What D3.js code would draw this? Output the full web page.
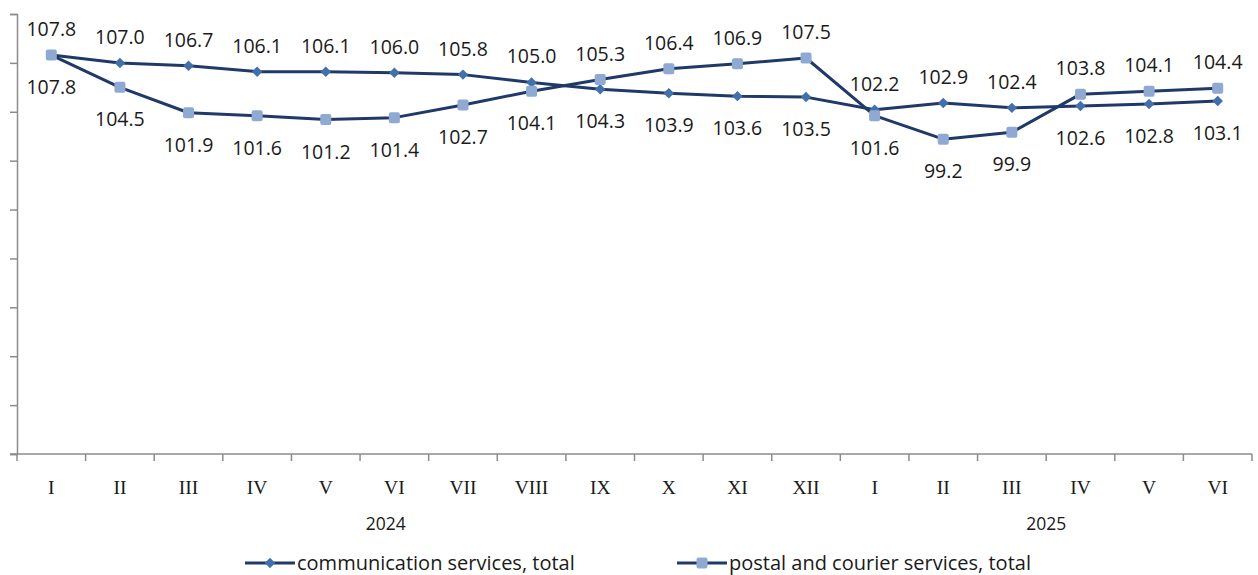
<!DOCTYPE html>
<html lang="en">
<head>
  <meta charset="UTF-8">
  <title>Communication and postal services</title>
  <script src="https://d3js.org/d3.v7.min.js"></script>
</head>
<body style="margin:0;background:#fff">

<div id="chart"></div>

<script>

// data
var months = ["I","II","III","IV","V","VI","VII","VIII","IX","X","XI","XII","I","II","III","IV","V","VI"];
var years = ["2024","2025"];
var yearFirst = [0, 12];
var yearLast = [11, 17];
var commValues = [107.8,107.0,106.7,106.1,106.1,106.0,105.8,105.0,104.3,103.9,103.6,103.5,102.2,102.9,102.4,102.6,102.8,103.1];
var postValues = [107.8,104.5,101.9,101.6,101.2,101.4,102.7,104.1,105.3,106.4,106.9,107.5,101.6,99.2,99.9,103.8,104.1,104.4];
var seriesNames = ["communication services, total", "postal and courier services, total"];

var width = 1258, height = 575;
var margin = {top: 14, right: 6, bottom: 121, left: 17};
var lineColor = "#1f3a68";
var commColor = "#4170ab";
var postColor = "#8fa9d3";
var axisColor = "#8c8c8c";

var svg = d3.select("#chart").append("svg")
  .attr("width", width)
  .attr("height", height);

var x = d3.scaleBand()
  .domain(d3.range(months.length))
  .range([margin.left, width - margin.right])
  .padding(0);

var y = d3.scaleLinear()
  .domain([67, 112])
  .range([height - margin.bottom, margin.top]);

var bottomY = height - margin.bottom;
var cx = i => x(i) + x.bandwidth() / 2;

// y axis: ticks without labels
var yAxis = svg.append("g")
  .attr("transform", "translate(" + margin.left + ",0)")
  .call(d3.axisLeft(y).tickValues(d3.range(67, 113, 5)).tickSize(7).tickFormat(""));
yAxis.select(".domain").attr("stroke", axisColor).attr("stroke-width", 1.5);
yAxis.selectAll(".tick line").attr("stroke", axisColor).attr("stroke-width", 1.5);

// x axis line with boundary ticks
svg.append("line")
  .attr("x1", margin.left - 7).attr("x2", width - margin.right)
  .attr("y1", bottomY).attr("y2", bottomY)
  .attr("stroke", axisColor).attr("stroke-width", 1.5);

svg.selectAll(".xtick")
  .data(d3.range(months.length + 1))
  .join("line")
  .attr("class", "xtick")
  .attr("x1", i => i < months.length ? x(i) : x(months.length - 1) + x.bandwidth())
  .attr("x2", i => i < months.length ? x(i) : x(months.length - 1) + x.bandwidth())
  .attr("y1", bottomY).attr("y2", bottomY + 7)
  .attr("stroke", axisColor).attr("stroke-width", 1.5);

svg.selectAll(".month")
  .data(months)
  .join("text")
  .attr("class", "month")
  .attr("x", (d, i) => cx(i))
  .attr("y", bottomY + 40)
  .attr("text-anchor", "middle")
  .attr("font-family", "'Liberation Serif', serif")
  .attr("font-size", 19.5)
  .attr("fill", "#1a1a1a")
  .text(d => d);

svg.selectAll(".year")
  .data(years)
  .join("text")
  .attr("class", "year")
  .attr("x", (d, i) => {
    var mid = (x(yearFirst[i]) + x(yearLast[i]) + x.bandwidth()) / 2;
    return i === 0 ? mid - 43 : mid;
  })
  .attr("y", bottomY + 76)
  .attr("text-anchor", "middle")
  .attr("font-family", "'Open Sans', sans-serif")
  .attr("font-size", 17.5)
  .attr("fill", "#1a1a1a")
  .text(d => d);

var line = d3.line()
  .x((d, i) => cx(i))
  .y(d => y(d));

// postal drawn first, communication on top
svg.append("path")
  .datum(postValues)
  .attr("fill", "none")
  .attr("stroke", lineColor)
  .attr("stroke-width", 3)
  .attr("stroke-linejoin", "round")
  .attr("d", line);

svg.append("path")
  .datum(commValues)
  .attr("fill", "none")
  .attr("stroke", lineColor)
  .attr("stroke-width", 3)
  .attr("stroke-linejoin", "round")
  .attr("d", line);

var diamond = d3.symbol().type(d3.symbolDiamond2).size(70);

svg.selectAll(".comm-pt")
  .data(commValues)
  .join("path")
  .attr("class", "comm-pt")
  .attr("transform", (d, i) => "translate(" + cx(i) + "," + y(d) + ")")
  .attr("d", diamond)
  .attr("fill", commColor);

svg.selectAll(".post-pt")
  .data(postValues)
  .join("rect")
  .attr("class", "post-pt")
  .attr("x", (d, i) => cx(i) - 5.5)
  .attr("y", d => y(d) - 5.5)
  .attr("width", 11).attr("height", 11)
  .attr("rx", 2)
  .attr("fill", postColor);

// labels: the higher series gets its label above, the other below
function labelY(v, other, isComm) {
  var above = isComm ? v >= other : v > other;
  return above ? y(v) - 19 : y(v) + 39;
}

svg.selectAll(".comm-lbl")
  .data(commValues)
  .join("text")
  .attr("class", "comm-lbl")
  .attr("x", (d, i) => cx(i))
  .attr("y", (d, i) => labelY(d, postValues[i], true))
  .attr("text-anchor", "middle")
  .attr("font-family", "'Open Sans', sans-serif")
  .attr("font-size", 19.5)
  .attr("fill", "#1a1a1a")
  .text(d => d.toFixed(1));

svg.selectAll(".post-lbl")
  .data(postValues)
  .join("text")
  .attr("class", "post-lbl")
  .attr("x", (d, i) => cx(i))
  .attr("y", (d, i) => labelY(d, commValues[i], false))
  .attr("text-anchor", "middle")
  .attr("font-family", "'Open Sans', sans-serif")
  .attr("font-size", 19.5)
  .attr("fill", "#1a1a1a")
  .text(d => d.toFixed(1));

// legend
var legendX = [245, 677];
var legendY = 563;
var legend = svg.selectAll(".legend")
  .data(seriesNames)
  .join("g")
  .attr("class", "legend")
  .attr("transform", (d, i) => "translate(" + legendX[i] + "," + legendY + ")");

legend.append("line")
  .attr("x1", 0).attr("x2", 50)
  .attr("stroke", lineColor).attr("stroke-width", 3);

legend.each(function(d, i) {
  var g = d3.select(this);
  if (i === 0) {
    g.append("path").attr("transform", "translate(25,0)").attr("d", diamond).attr("fill", commColor);
  } else {
    g.append("rect").attr("x", 19.5).attr("y", -5.5).attr("width", 11).attr("height", 11)
      .attr("rx", 2).attr("fill", postColor);
  }
});

legend.append("text")
  .attr("x", 52)
  .attr("y", 7)
  .attr("font-family", "'Open Sans', sans-serif")
  .attr("font-size", 20)
  .attr("fill", "#1a1a1a")
  .text(d => d);

</script>

</body>
</html>
